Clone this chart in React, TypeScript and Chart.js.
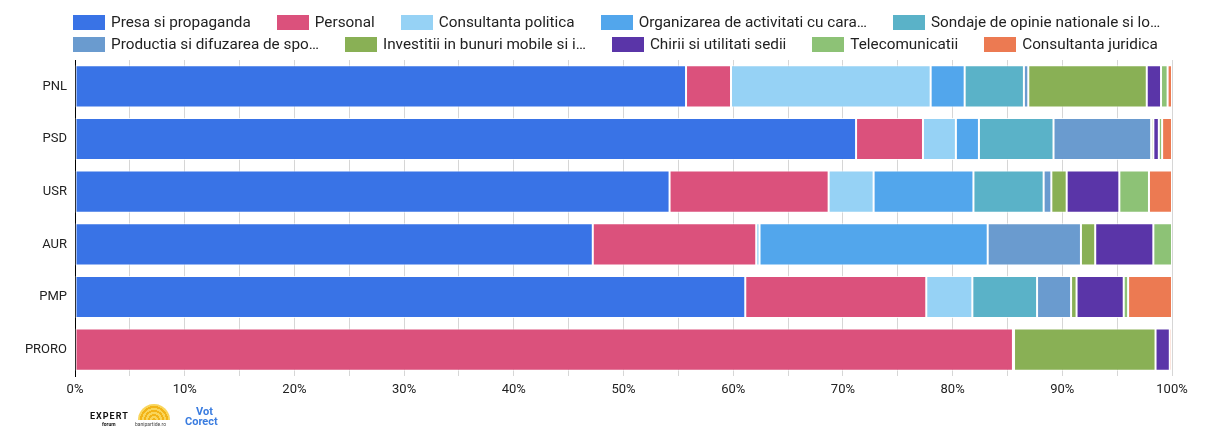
import React, { useEffect, useRef } from 'react';
import { Chart, registerables } from 'chart.js';

Chart.register(...registerables);

const categories = ['PNL', 'PSD', 'USR', 'AUR', 'PMP', 'PRORO'];

const legendLabels = [
  'Presa si propaganda',
  'Personal',
  'Consultanta politica',
  'Organizarea de activitati cu cara…',
  'Sondaje de opinie nationale si lo…',
  'Productia si difuzarea de spo…',
  'Investitii in bunuri mobile si i…',
  'Chirii si utilitati sedii',
  'Telecomunicatii',
  'Consultanta juridica',
];

const seriesColors = [
  '#3973E6',
  '#DB517C',
  '#96D2F5',
  '#52A6EC',
  '#5AB2C8',
  '#6A9BCF',
  '#89B055',
  '#5A35A8',
  '#8DC276',
  '#EC7A52',
];

const presa = [55.7, 71.2, 54.2, 47.2, 61.1, 0];
const personal = [4.1, 6.1, 14.5, 14.9, 16.5, 85.5];
const consultantaPolitica = [18.2, 3.0, 4.1, 0.3, 4.2, 0];
const organizarea = [3.1, 2.1, 9.1, 20.8, 0, 0];
const sondaje = [5.4, 6.8, 6.4, 0, 5.9, 0];
const productia = [0.4, 8.9, 0.7, 8.5, 3.1, 0.1];
const investitii = [10.8, 0.2, 1.4, 1.3, 0.5, 12.9];
const chirii = [1.3, 0.5, 4.8, 5.3, 4.3, 1.3];
const telecom = [0.6, 0.3, 2.7, 1.7, 0.4, 0];
const juridica = [0.4, 0.9, 2.1, 0, 4.0, 0.2];

const seriesValues = [
  presa,
  personal,
  consultantaPolitica,
  organizarea,
  sondaje,
  productia,
  investitii,
  chirii,
  telecom,
  juridica,
];

const FONT = 'Roboto, "Noto Sans", sans-serif';

function LegendItem({ label, color }: { label: string; color: string }) {
  return (
    <div style={{ display: 'flex', alignItems: 'center', whiteSpace: 'nowrap' }}>
      <div style={{ width: 32, height: 15, background: color, marginRight: 6 }} />
      <span style={{ fontSize: 15.3, lineHeight: '15px', color: '#222' }}>{label}</span>
    </div>
  );
}

export default function App() {
  const ref = useRef<HTMLCanvasElement>(null);

  useEffect(() => {
    if (!ref.current) return;
    const chart = new Chart(ref.current, {
      type: 'bar',
      data: {
        labels: categories,
        datasets: seriesValues.map((vals, i) => ({
          label: legendLabels[i],
          data: vals,
          backgroundColor: seriesColors[i],
          borderColor: 'rgba(255,255,255,0.8)',
          borderWidth: 1,
          borderSkipped: false,
          barPercentage: 0.8,
          categoryPercentage: 1,
        })),
      },
      options: {
        indexAxis: 'y',
        responsive: false,
        animation: false,
        layout: { padding: { top: 60, right: 44, bottom: 36, left: 0 } },
        plugins: {
          legend: { display: false },
          tooltip: { enabled: false },
        },
        scales: {
          x: {
            stacked: true,
            min: 0,
            max: 100,
            ticks: {
              stepSize: 5,
              autoSkip: false,
              maxRotation: 0,
              callback: (v: any) => (Number(v) % 10 === 0 ? v + '%' : ''),
              color: '#222',
              font: { family: FONT, size: 13 },
              padding: 6,
            },
            grid: { color: '#d6d6d6', drawTicks: false, lineWidth: 1 },
            border: { display: false },
            afterFit: (s: any) => {
              s.height = 24;
            },
          },
          y: {
            stacked: true,
            grid: { display: false, drawTicks: false },
            border: { display: true, color: '#000', width: 1 },
            ticks: {
              color: '#222',
              font: { family: FONT, size: 13 },
              padding: 8,
            },
            afterFit: (s: any) => {
              s.width = 75;
            },
          },
        },
      },
    });
    return () => chart.destroy();
  }, []);

  const row1 = [0, 1, 2, 3, 4];
  const row2 = [5, 6, 7, 8, 9];

  return (
    <div
      style={{
        position: 'fixed',
        left: 0,
        top: 0,
        width: 1216,
        height: 436,
        background: '#fff',
        fontFamily: FONT,
        overflow: 'hidden',
      }}
    >
      <canvas ref={ref} width={1216} height={436} style={{ display: 'block', width: 1216, height: 436 }} />
      <div style={{ position: 'absolute', left: 73, top: 15, display: 'flex', gap: 26 }}>
        {row1.map((i) => (
          <LegendItem key={i} label={legendLabels[i]} color={seriesColors[i]} />
        ))}
      </div>
      <div style={{ position: 'absolute', left: 73, top: 37, display: 'flex', gap: 26 }}>
        {row2.map((i) => (
          <LegendItem key={i} label={legendLabels[i]} color={seriesColors[i]} />
        ))}
      </div>
      <div style={{ position: 'absolute', left: 90, top: 404, display: 'flex', alignItems: 'flex-end', gap: 9 }}>
        <div style={{ width: 36, height: 20, position: 'relative', color: '#111', fontWeight: 700 }}>
          <div style={{ position: 'absolute', left: 0, top: 3, fontSize: 9, letterSpacing: 1 }}>EXPERT</div>
          <div style={{ position: 'absolute', left: 12, top: 13, fontSize: 5 }}>forum</div>
        </div>
        <div style={{ width: 38, height: 24, position: 'relative' }}>
          <div
            style={{
              position: 'absolute',
              left: 3,
              top: 0,
              width: 32,
              height: 16,
              borderRadius: '16px 16px 0 0',
              background: 'repeating-radial-gradient(circle at 50% 100%, #F2B418 0 2px, #F9D55A 2px 4px)',
            }}
          />
          <div style={{ position: 'absolute', left: 0, top: 17, fontSize: 5, color: '#444', whiteSpace: 'nowrap' }}>
            banipartide.ro
          </div>
        </div>
        <div style={{ width: 42, height: 22, position: 'relative', color: '#3B7DE0', fontWeight: 700 }}>
          <div style={{ position: 'absolute', left: 14, top: 0, fontSize: 11, lineHeight: '11px' }}>Vot</div>
          <div style={{ position: 'absolute', left: 3, top: 10, fontSize: 11, lineHeight: '11px' }}>Corect</div>
        </div>
      </div>
    </div>
  );
}
